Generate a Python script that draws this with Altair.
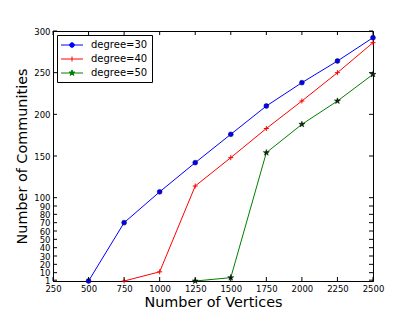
import altair as alt
import pandas as pd

# ---- data ----
VERTICES_30 = [500, 750, 1000, 1250, 1500, 1750, 2000, 2250, 2500]
COMM_30 = [0, 70, 107, 142, 176, 210, 238, 264, 292]
VERTICES_40 = [750, 1000, 1250, 1500, 1750, 2000, 2250, 2500]
COMM_40 = [0, 11, 114, 148, 183, 216, 250, 286]
VERTICES_50 = [1250, 1500, 1750, 2000, 2250, 2500]
COMM_50 = [0, 4, 154, 188, 216, 248]
SERIES = ["degree=30", "degree=40", "degree=50"]
COLORS = ["#0000ff", "#ff0000", "#008000"]
X_TICKS = [250, 500, 750, 1000, 1250, 1500, 1750, 2000, 2250, 2500]
Y_TICKS = [1, 10, 20, 30, 40, 50, 60, 70, 80, 90, 100, 150, 200, 250, 300]

W, H = 320, 250
FONT = "DejaVu Sans"

rows = []
for name, xs, ys in zip(SERIES, [VERTICES_30, VERTICES_40, VERTICES_50],
                        [COMM_30, COMM_40, COMM_50]):
    for xv, yv in zip(xs, ys):
        rows.append({"vertices": xv, "communities": yv, "series": name})
df = pd.DataFrame(rows)
xt = pd.DataFrame({"vertices": X_TICKS})
yt = pd.DataFrame({"communities": Y_TICKS})

xscale = alt.Scale(domain=[250, 2500], nice=False, zero=False)
yscale = alt.Scale(domain=[0, 300], nice=False, zero=True)

XAX = alt.Axis(values=X_TICKS, format="d", title="Number of Vertices",
               ticks=False, labelPadding=3, labelFlush=False,
               labelOverlap=False, grid=False, titlePadding=3)
YAX = alt.Axis(values=Y_TICKS, format="d", title="Number of Communities",
               ticks=False, labelPadding=3, labelOverlap=False,
               grid=False, titlePadding=4)
X = alt.X("vertices:Q", scale=xscale, axis=XAX)
Y = alt.Y("communities:Q", scale=yscale, axis=YAX)

# legend symbols: line + marker
LEG_CIRCLE = "M-2,0H2M0.42,0A0.42,0.42 0 1,1 -0.42,0A0.42,0.42 0 1,1 0.42,0Z"
LEG_PLUS = "M-2,0H2M0,-0.45V0.45"
LEG_STAR = ("M-2,0H2M0,-0.55L0.124,-0.170L0.523,-0.170L0.2,0.065L0.323,0.445L0,0.21"
            "L-0.323,0.445L-0.2,0.065L-0.523,-0.170L-0.124,-0.170Z")

leg = alt.Legend(orient="none", legendX=4, legendY=4, title=None,
                 symbolSize=121, symbolStrokeWidth=1, symbolOffset=5,
                 symbolOpacity=1,
                 labelOffset=13, labelFont=FONT, labelFontSize=10,
                 labelColor="black", padding=4, rowPadding=3,
                 strokeColor="black", fillColor="white", cornerRadius=0)

base = alt.Chart(df)

lines = base.mark_line(strokeWidth=1, clip=False).encode(
    x=X, y=Y,
    color=alt.Color("series:N", scale=alt.Scale(domain=SERIES, range=COLORS), legend=leg),
)

STAR = ("M0,-1L0.225,-0.309L0.951,-0.309L0.363,0.118L0.588,0.809L0,0.382"
        "L-0.588,0.809L-0.363,0.118L-0.951,-0.309L-0.225,-0.309Z")
PLUS = "M-1,0H1M0,-1V1"

pts30 = base.transform_filter(alt.datum.series == SERIES[0]).mark_point(
    shape="circle", filled=True, size=24, fill=COLORS[0], stroke="#000033",
    strokeWidth=0.5, opacity=1).encode(x=X, y=Y)
pts40 = base.transform_filter(alt.datum.series == SERIES[1]).mark_point(
    shape=PLUS, filled=False, size=25, stroke=COLORS[1], strokeWidth=1,
    opacity=1).encode(x=X, y=Y)
pts50 = base.transform_filter(alt.datum.series == SERIES[2]).mark_point(
    shape=STAR, filled=True, size=40, fill="#003300", stroke="#000000",
    strokeWidth=0.5, opacity=1).encode(x=X, y=Y)

legend_layer = base.mark_point(filled=True, opacity=0).encode(
    x=X, y=Y,
    fill=alt.Fill("series:N", scale=alt.Scale(domain=SERIES, range=COLORS), legend=leg),
    stroke=alt.Stroke("series:N", scale=alt.Scale(domain=SERIES, range=COLORS), legend=leg),
    shape=alt.Shape("series:N", scale=alt.Scale(domain=SERIES,
                    range=[LEG_CIRCLE, LEG_PLUS, LEG_STAR]), legend=leg),
)

tick_style = dict(color="black", thickness=1, size=4, opacity=1)
xt_bottom = alt.Chart(xt).mark_tick(**tick_style).encode(x=X, y=alt.value(H - 2))
xt_top = alt.Chart(xt).mark_tick(**tick_style).encode(x=X, y=alt.value(2))
yt_left = alt.Chart(yt).mark_tick(**tick_style).encode(y=Y, x=alt.value(2))
yt_right = alt.Chart(yt).mark_tick(**tick_style).encode(y=Y, x=alt.value(W - 2))

chart = alt.layer(
    lines, pts30, pts40, pts50, legend_layer,
    xt_bottom, xt_top, yt_left, yt_right,
).properties(
    width=W, height=H,
    background="white",
    autosize=alt.AutoSizeParams(type="none"),
    padding={"left": 45, "top": 23, "right": 30, "bottom": 30},
).configure_view(
    stroke="black", strokeWidth=1,
).configure_axis(
    domainColor="black", domainWidth=1,
    labelFont=FONT, labelFontSize=8.5, labelColor="black",
    titleFont=FONT, titleFontSize=14.4, titleFontWeight="normal", titleColor="black",
)

chart.save("out.html", embed_options={"renderer": "svg", "actions": False})
